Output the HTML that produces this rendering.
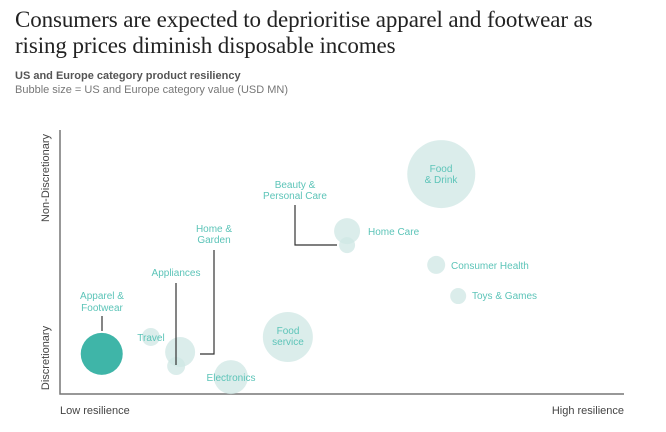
<!DOCTYPE html>
<html><head><meta charset="utf-8"><style>
body{margin:0;background:#fff;width:666px;height:432px;overflow:hidden;font-family:"Liberation Sans",sans-serif}
h1{position:absolute;left:15px;top:7px;margin:0;font:23px/26px "Liberation Serif",serif;color:#222;width:615px;letter-spacing:-0.1px}
.sub{position:absolute;left:15px;font-size:11px}
</style></head><body>
<h1>Consumers are expected to deprioritise apparel and footwear as rising prices diminish disposable incomes</h1>
<div class="sub" style="top:70px;font-weight:bold;color:#555">US and Europe category product resiliency</div>
<div class="sub" style="top:84px;color:#777">Bubble size = US and Europe category value (USD MN)</div>
<svg id="chart" width="666" height="432" style="position:absolute;left:0;top:0"></svg>
<script>
const categories=["Apparel & Footwear","Travel","Home & Garden","Appliances","Electronics","Food service","Home Care","Beauty & Personal Care","Food & Drink","Consumer Health","Toys & Games"];
const resilience=[7.4,16.1,21.3,20.6,30.3,40.4,50.9,50.9,67.6,66.7,70.6];
const discretion=[15.2,21.6,15.9,10.6,6.4,21.6,61.7,56.4,83.3,48.9,37.1];
const values=[441,81,225,81,289,625,169,64,1156,81,64];
const NS="http://www.w3.org/2000/svg",svg=document.getElementById('chart');
const X0=60,X1=624,Y0=394,Y1=130;
function xs(v){return X0+(X1-X0)*v/100}
function ys(v){return Y0-(Y0-Y1)*v/100}
function rs(v){return Math.sqrt(v)}
function el(t,a,p){const e=document.createElementNS(NS,t);for(const k in a)e.setAttribute(k,a[k]);(p||svg).appendChild(e);return e}
const ax=el('path',{d:`M${X0} ${Y1}V${Y0}H${X1}`,fill:'none',stroke:'#777','stroke-width':1.5});


function txt(s,x,y,o){const t=el('text',Object.assign({x:x,y:y,'font-size':10,fill:'#5cc4b8','text-anchor':'middle','font-family':'Liberation Sans, sans-serif'},o||{}));t.textContent=s;return t}
let t;
t=txt('Low resilience',60,414,{fill:'#444','text-anchor':'start','font-size':11});
t=txt('High resilience',624,414,{fill:'#444','text-anchor':'end','font-size':11});
t=txt('Non-Discretionary',49,178,{fill:'#444','font-size':11,transform:'rotate(-90 49 178)'});
t=txt('Discretionary',49,358,{fill:'#444','font-size':11,transform:'rotate(-90 49 358)'});
const order=values.map((v,i)=>i).sort((a,b)=>values[b]-values[a]);
order.forEach(i=>{
 const c=el('circle',{cx:xs(resilience[i]),cy:ys(discretion[i]),r:rs(values[i]),fill:i===0?'#3fb5a8':'#cfe7e4','fill-opacity':i===0?1:0.75});
 
 
});
const lines=["M102 316V331","M176 283V365","M214 250V354H200","M295 205V245H337"];
lines.forEach(d=>{const l=el('path',{d:d,fill:'none',stroke:'#333','stroke-width':1.2});});
const labs=[["Apparel &",102,299],["Footwear",102,311],["Travel",151,341],["Appliances",176,276],["Home &",214,232],["Garden",214,243],["Electronics",231,381],["Food",288,334],["service",288,345],["Beauty &",295,188],["Personal Care",295,199],["Food",441,172],["& Drink",441,183]];
labs.forEach(a=>{const l=txt(a[0],a[1],a[2]);});
[["Home Care",368,235],["Consumer Health",451,269],["Toys & Games",472,299]].forEach(a=>{const l=txt(a[0],a[1],a[2],{'text-anchor':'start'});});
</script>
</body></html>
